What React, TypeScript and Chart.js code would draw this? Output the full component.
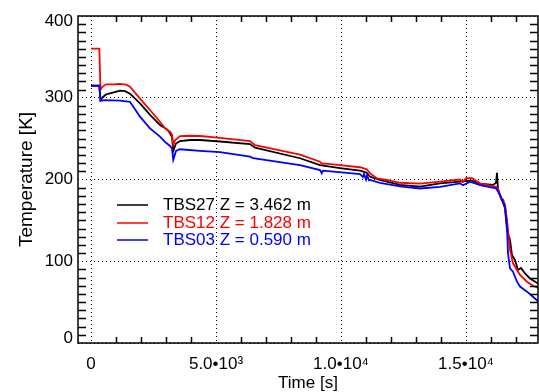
import React, { useEffect, useRef } from "react";
import { Chart, registerables } from "chart.js";

Chart.register(...registerables);

const FONT_FAMILY = '"Liberation Sans", Arial, Helvetica, sans-serif';

// Axis ticks and labels
const xTickValues = [0, 5000, 10000, 15000];
const xTickLabels = ["0", "5.0•10³", "1.0•10⁴", "1.5•10⁴"];
const yTickValues = [0, 100, 200, 300, 400];
const yTickLabels = ["0", "100", "200", "300", "400"];
const xRange = [-520, 17880];
const yRange = [0, 400];
const xMinorTicks = [1000, 2000, 3000, 4000, 6000, 7000, 8000, 9000, 11000, 12000, 13000, 14000, 16000, 17000];
const yMinorTicks = [
  10, 20, 30, 40, 50, 60, 70, 80, 90, 110, 120, 130, 140, 150, 160, 170, 180, 190,
  210, 220, 230, 240, 250, 260, 270, 280, 290, 310, 320, 330, 340, 350, 360, 370, 380, 390,
];

const xTitle = "Time [s]";
const yTitle = "Temperature [K]";

// TBS27, Z = 3.462 m
const tbs27Label = "TBS27 Z = 3.462 m";
const tbs27Time = [
  0, 332, 380, 480, 600, 760, 1160, 1360, 1560, 1960, 2360, 2760, 3040, 3160, 3240, 3290,
  3400, 3560, 3960, 4360, 5160, 6360, 6560, 8360, 9160, 9960, 10760, 11030, 11160, 11560,
  12360, 13160, 13960, 14760, 15240, 15560, 16080, 16200, 16240, 16280, 16400, 16480,
  16560, 16640, 16760, 16840, 16960, 17080, 17200, 17360, 17560, 17920,
];
const tbs27Temp = [
  314.7, 314.7, 297, 301, 304, 305.4, 308.6, 308, 305, 293, 279, 266.7, 261.4, 256.5, 252, 235,
  244, 247, 248.3, 248.3, 246.5, 243.4, 238.9, 226, 217.7, 214, 210.8, 208.3, 203.4, 199.4,
  193.3, 191.2, 195.3, 197.3, 198.5, 195, 193.3, 196, 208.3, 188, 177, 172,
  165, 138, 126, 107.6, 101.5, 89.3, 91.7, 85, 79, 72,
];

// TBS12, Z = 1.828 m
const tbs12Label = "TBS12 Z = 1.828 m";
const tbs12Time = [
  0, 332, 380, 480, 600, 960, 1160, 1400, 1560, 1960, 2360, 2760, 2960, 3160, 3240, 3290,
  3360, 3560, 3960, 4360, 5160, 6360, 6560, 8360, 9160, 9230, 9280, 9960, 10760, 11030,
  11160, 11430, 11830, 12360, 13160, 13960, 14760, 14880, 15000, 15240, 15560, 16200,
  16280, 16400, 16480, 16560, 16640, 16760, 16880, 17040, 17160, 17440, 17680, 17920,
];
const tbs12Temp = [
  360, 360, 310, 314, 316.4, 316.5, 317, 316, 313.6, 299, 285, 270.7, 262.6, 258.5, 255, 242,
  248, 253, 253.5, 253.2, 251, 247, 242, 230.5, 221.8, 219, 219.8, 217.5, 215, 212.5,
  207.6, 201.5, 199.4, 196, 195, 197.3, 200, 197, 201.5, 201.5, 195.3, 191,
  189, 177, 175.8, 168.8, 150.5, 113.8, 97.5, 89.3, 83.2, 75, 70, 67,
];

// TBS03, Z = 0.590 m
const tbs03Label = "TBS03 Z = 0.590 m";
const tbs03Time = [
  0, 332, 380, 560, 1160, 1560, 1960, 2360, 2760, 2960, 3160, 3240, 3290, 3400, 3560, 4360,
  5160, 6360, 6480, 8360, 9160, 9230, 9280, 10760, 10880, 10920, 11000, 11040, 11120, 11160,
  11560, 12360, 13160, 13960, 14760, 14880, 15160, 15560, 16200, 16360, 16480, 16560,
  16640, 16680, 16760, 16880, 16960, 17040, 17160, 17440, 17680, 17920,
];
const tbs03Temp = [
  314.7, 314.7, 296.4, 297, 296.5, 295, 276.9, 262.6, 252.4, 246, 241, 238, 224, 235, 237, 235,
  233.5, 228, 226, 217.7, 211.6, 207.6, 210.8, 206.7, 203, 207, 200, 205, 199, 199.4,
  196, 191.5, 189, 191, 195.3, 193, 197.3, 193, 189.3, 181, 172.8, 166.7,
  142, 109.7, 91.3, 87.2, 81, 75, 69, 62.8, 56.6, 50,
];

const toPoints = (time: number[], temp: number[]) => time.map((t, i) => ({ x: t, y: temp[i] }));

// Nudge the end labels of the y axis inward, away from the frame corners
const edgeLabelNudge = {
  id: "edgeLabelNudge",
  beforeDraw(chart: any) {
    const ys = chart.scales.y;
    if (!ys || typeof ys.getLabelItems !== "function") return;
    const items = ys.getLabelItems();
    items.forEach((item: any) => {
      if (item._nudged || !item.options || !Array.isArray(item.options.translation)) return;
      if (item.label === yTickLabels[0]) item.options.translation[1] -= 5;
      if (item.label === yTickLabels[yTickLabels.length - 1]) item.options.translation[1] += 5;
      item._nudged = true;
    });
  },
};

// Legend inside the plot, then the closed frame with inward minor ticks
const overlay = {
  id: "overlay",
  afterDatasetsDraw(chart: any) {
    const ctx = chart.ctx;
    const area = chart.chartArea;
    const xs = chart.scales.x;
    const ys = chart.scales.y;

    // legend rows
    const x0 = area.left + 39;
    const y0 = area.top + 189;
    const rowH = 17.5;
    ctx.save();
    ctx.setLineDash([]);
    ctx.font = `17px ${FONT_FAMILY}`;
    ctx.textAlign = "left";
    ctx.textBaseline = "middle";
    chart.data.datasets.forEach((ds: any, i: number) => {
      const yy = Math.round(y0 + i * rowH);
      ctx.strokeStyle = ds.borderColor;
      ctx.lineWidth = 1.5;
      ctx.beginPath();
      ctx.moveTo(x0, yy);
      ctx.lineTo(x0 + 31, yy);
      ctx.stroke();
      ctx.fillStyle = ds.borderColor;
      ctx.fillText(ds.label, x0 + 46, yy);
    });
    ctx.restore();

    // minor ticks on all four sides plus the frame, in one path
    const l = Math.round(area.left);
    const r = Math.round(area.right);
    const t = Math.round(area.top);
    const b = Math.round(area.bottom);
    ctx.save();
    ctx.setLineDash([]);
    ctx.strokeStyle = "#000000";
    ctx.lineWidth = 1.5;
    ctx.beginPath();
    xMinorTicks.forEach((v) => {
      const px = Math.round(xs.getPixelForValue(v)) + 0.5;
      ctx.moveTo(px, b);
      ctx.lineTo(px, b - 6);
      ctx.moveTo(px, t);
      ctx.lineTo(px, t + 6);
    });
    yMinorTicks.forEach((v) => {
      const py = Math.round(ys.getPixelForValue(v)) + 0.5;
      ctx.moveTo(l, py);
      ctx.lineTo(l + 8, py);
      ctx.moveTo(r, py);
      ctx.lineTo(r - 8, py);
    });
    ctx.rect(l, t, r - l, b - t);
    ctx.stroke();
    ctx.restore();
  },
};

export default function App() {
  const canvasRef = useRef<HTMLCanvasElement | null>(null);

  useEffect(() => {
    const canvas = canvasRef.current;
    if (!canvas) return;
    const tickFont = { family: FONT_FAMILY, size: 17 };
    const xTitleFont = { family: FONT_FAMILY, size: 17, lineHeight: 1 };
    const yTitleFont = { family: FONT_FAMILY, size: 19, lineHeight: 1 };

    const chart = new Chart(canvas, {
      type: "line",
      data: {
        datasets: [
          {
            label: tbs27Label,
            data: toPoints(tbs27Time, tbs27Temp),
            borderColor: "#000000",
            borderWidth: 1.8,
            order: 3,
          },
          {
            label: tbs12Label,
            data: toPoints(tbs12Time, tbs12Temp),
            borderColor: "#ff0000",
            borderWidth: 1.8,
            order: 2,
          },
          {
            label: tbs03Label,
            data: toPoints(tbs03Time, tbs03Temp),
            borderColor: "#0000ff",
            borderWidth: 1.8,
            order: 1,
          },
        ],
      },
      options: {
        animation: false,
        responsive: false,
        devicePixelRatio: 1,
        events: [],
        elements: {
          point: { radius: 0 },
          line: { tension: 0, fill: false },
        },
        layout: { padding: { top: 16, right: 1, left: 0, bottom: 0 } },
        plugins: {
          legend: { display: false },
          tooltip: { enabled: false },
        },
        scales: {
          x: {
            type: "linear",
            min: xRange[0],
            max: xRange[1],
            afterBuildTicks: (scale: any) => {
              scale.ticks = xTickValues.map((v) => ({ value: v }));
            },
            afterFit: (scale: any) => {
              scale.height = 49;
            },
            ticks: {
              callback: (v: any) => xTickLabels[xTickValues.indexOf(Number(v))] ?? "",
              font: tickFont,
              color: "#000",
              padding: 11,
              maxRotation: 0,
              autoSkip: false,
            },
            grid: { color: "#000", lineWidth: 1, drawTicks: false, drawOnChartArea: true },
            border: { display: false, dash: [1, 3] },
            title: {
              display: true,
              text: xTitle,
              font: xTitleFont,
              color: "#000",
              padding: { top: 0, bottom: 0 },
            },
          },
          y: {
            type: "linear",
            min: yRange[0],
            max: yRange[1],
            afterBuildTicks: (scale: any) => {
              scale.ticks = yTickValues.map((v) => ({ value: v }));
            },
            afterFit: (scale: any) => {
              scale.width = 78;
            },
            ticks: {
              callback: (v: any) => yTickLabels[yTickValues.indexOf(Number(v))] ?? "",
              font: tickFont,
              color: "#000",
              padding: 5,
              autoSkip: false,
            },
            grid: { color: "#000", lineWidth: 1, drawTicks: false, drawOnChartArea: true },
            border: { display: false, dash: [1, 3] },
            title: {
              display: true,
              text: yTitle,
              font: yTitleFont,
              color: "#000",
              padding: { top: 17, bottom: 0 },
            },
          },
        },
      },
      plugins: [edgeLabelNudge, overlay],
    } as any);

    return () => chart.destroy();
  }, []);

  return (
    <div style={{ position: "absolute", left: 0, top: 0, width: 539, height: 392, background: "#fff" }}>
      <canvas ref={canvasRef} width={539} height={392} style={{ display: "block" }} />
    </div>
  );
}
